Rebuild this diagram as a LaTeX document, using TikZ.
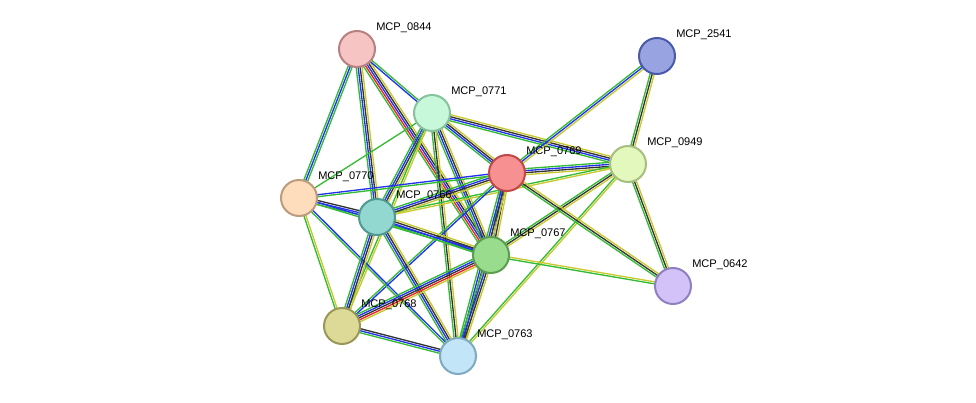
\documentclass[tikz,border=0pt]{standalone}
\usepackage{fontspec}
\setmainfont{Liberation Sans}
\usetikzlibrary{calc}
\pgfdeclarelayer{bg}
\pgfsetlayers{bg,main}
\definecolor{eg}{HTML}{33BB33}
\definecolor{eb}{HTML}{2233EE}
\definecolor{ey}{HTML}{C8C830}
\definecolor{ek}{HTML}{333333}
\definecolor{er}{HTML}{EE2222}
\newcommand\edge[3]{%
  \begin{pgfonlayer}{bg}
  \foreach \c [count=\i] in {#3} {\xdef\edgen{\i}}%
  \foreach \c [count=\i] in {#3} {%
    \draw[\c, line width=1pt] let \p1=(#1.center), \p2=(#2.center),
      \n1={atan2(\y2-\y1,\x2-\x1)+90}, \n2={(\i-(\edgen+1)/2)*1.5} in
      ($(\p1)+(\n1:\n2 pt)$) -- ($(\p2)+(\n1:\n2 pt)$);
  }%
  \end{pgfonlayer}}
\tikzset{
  prot/.style 2 args={circle, minimum size=27pt, inner sep=0pt, line width=1.5pt, fill=#1, draw=#2},
  lab/.style={anchor=west, font=\fontsize{8.3pt}{9pt}\selectfont, inner sep=0pt}
}
\definecolor{f0844}{HTML}{F7C4C4}\definecolor{d0844}{HTML}{B88080}
\definecolor{f0771}{HTML}{C8F8DA}\definecolor{d0771}{HTML}{86C29C}
\definecolor{f2541}{HTML}{98A4E2}\definecolor{d2541}{HTML}{4A5AA8}
\definecolor{f0949}{HTML}{E2F8BC}\definecolor{d0949}{HTML}{A6BE7E}
\definecolor{f0769}{HTML}{F79090}\definecolor{d0769}{HTML}{C04848}
\definecolor{f0770}{HTML}{FDDDBC}\definecolor{d0770}{HTML}{BC9C7C}
\definecolor{f0766}{HTML}{92D8D0}\definecolor{d0766}{HTML}{4E9A92}
\definecolor{f0767}{HTML}{9ADC8E}\definecolor{d0767}{HTML}{5A9E50}
\definecolor{f0642}{HTML}{D2C2F8}\definecolor{d0642}{HTML}{9080C0}
\definecolor{f0768}{HTML}{DCDA96}\definecolor{d0768}{HTML}{9A9858}
\definecolor{f0763}{HTML}{C2E6F8}\definecolor{d0763}{HTML}{7EAAC2}
\begin{document}
\begin{tikzpicture}[x=0.75pt,y=-0.75pt]
\useasboundingbox (0,0) rectangle (976,403);
\foreach \n/\x/\y in {0844/357/49,0771/432/113,2541/657/56,0949/628/164,0769/507/173,0770/299/198,0766/377/217,0767/491/255,0642/673/286,0768/342/326,0763/458/356}{
  \node[prot={f\n}{d\n}] (n\n) at (\x,\y) {};
  \node[lab] (l\n) at (\x+19,\y-21) {MCP\_\n};
}
\edge{n0844}{n0770}{eg,eb,eg}
\edge{n0844}{n0766}{eg,eb,ek,ey}
\edge{n0844}{n0767}{eg,er,eb,ek,ey}
\edge{n0844}{n0771}{eb,eg}
\edge{n0771}{n0770}{eg}
\edge{n0771}{n0766}{eg,eb,ek,ey}
\edge{n0771}{n0769}{eg,eb,ek,ey}
\edge{n0771}{n0949}{eg,eb,ek,ey}
\edge{n0771}{n0767}{eg,eb,ek,ey}
\edge{n0771}{n0763}{eg,ek,ey}
\edge{n0771}{n0768}{eg,ey}
\edge{n2541}{n0769}{eg,eb,ey}
\edge{n2541}{n0949}{eg,ek,ey}
\edge{n0949}{n0769}{eg,eb,ek,ey}
\edge{n0949}{n0766}{eg,ey}
\edge{n0949}{n0767}{eg,ek,ey}
\edge{n0949}{n0642}{eg,ek,ey}
\edge{n0949}{n0763}{eg,ey}
\edge{n0769}{n0770}{eb,eg}
\edge{n0769}{n0766}{eg,eb,ek,ey}
\edge{n0769}{n0767}{eg,eb,ek,ey}
\edge{n0769}{n0763}{eg,eb,ek,ey}
\edge{n0769}{n0768}{eg,eb}
\edge{n0769}{n0642}{eg,ek,ey}
\edge{n0770}{n0766}{eg,eb,ek}
\edge{n0770}{n0767}{eg,eb}
\edge{n0770}{n0768}{eg,ey}
\edge{n0770}{n0763}{eg,eb}
\edge{n0766}{n0767}{eg,eb,ek,ey}
\edge{n0766}{n0768}{eg,eb,ek,ey}
\edge{n0766}{n0763}{eg,eb,ek,ey}
\edge{n0767}{n0768}{eg,eb,ek,er,ey}
\edge{n0767}{n0763}{eg,eb,ek,ey}
\edge{n0767}{n0642}{eg,ey}
\edge{n0768}{n0763}{eg,eb,ek}
\end{tikzpicture}
\end{document}
